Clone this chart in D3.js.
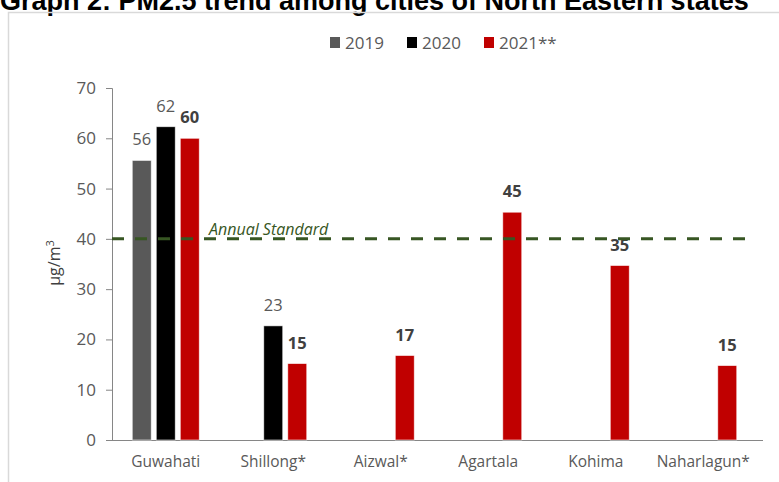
<!DOCTYPE html>
<html>
<head>
<meta charset="utf-8">
<script src="https://cdn.jsdelivr.net/npm/d3@7"></script>
<style>
  html, body { margin: 0; padding: 0; background: #fff; }
  svg { display: block; }
</style>
</head>
<body>
<script>
// PM2.5 annual averages (µg/m³) for north-eastern cities
const categories = ["Guwahati", "Shillong*", "Aizwal*", "Agartala", "Kohima", "Naharlagun*"];
const seriesNames = ["2019", "2020", "2021**"];
const values2019 = [55.6, null, null, null, null, null];
const values2020 = [62.3, 22.7, null, null, null, null];
const values2021 = [60.0, 15.2, 16.8, 45.3, 34.7, 14.8];
const seriesColors = ["#595959", "#000000", "#C00000"];
const yTicks = [0, 10, 20, 30, 40, 50, 60, 70];
const annualStandard = 40;

const W = 779, H = 482;
const svg = d3.select("body").append("svg").attr("width", W).attr("height", H);

// title (runs above the top of the frame)
svg.append("text")
  .attr("x", 0).attr("y", 10)
  .attr("font-family", "Liberation Sans, Arial, sans-serif")
  .attr("font-weight", "bold").attr("font-size", 27)
  .attr("fill", "#000")
  .text("Graph 2: PM2.5 trend among cities of North Eastern states");

// chart frame
svg.append("rect")
  .attr("x", 8.5).attr("y", 12.5).attr("width", W).attr("height", H)
  .attr("fill", "none").attr("stroke", "#d9d9d9").attr("stroke-width", 1.5);

const font = "'Open Sans', Lato, sans-serif";
const axisColor = "#868686";
const textColor = "#595959";

const x0 = d3.scaleBand().domain(categories).range([112, 757]).padding(0);
const x1 = d3.scaleBand().domain(seriesNames).range([-33.5, 33.5]).paddingInner(0.21);
const y = d3.scaleLinear().domain([0, 70]).range([440, 88]);

// y axis
const yAxis = svg.append("g")
  .attr("transform", "translate(112,0)")
  .call(d3.axisLeft(y).tickValues(yTicks).tickSize(6).tickPadding(10).tickFormat(d3.format("d")));
yAxis.select(".domain").attr("stroke", axisColor);
yAxis.selectAll(".tick line").attr("stroke", axisColor);
yAxis.selectAll(".tick text")
  .attr("font-family", font).attr("font-size", 17).attr("fill", textColor);

// x axis
const xAxis = svg.append("g")
  .attr("transform", "translate(0,440)")
  .call(d3.axisBottom(x0).tickSize(0).tickPadding(16));
xAxis.select(".domain").attr("stroke", axisColor).attr("d", "M106,0.5H763");
xAxis.selectAll(".tick text")
  .attr("font-family", font).attr("font-size", 15.5).attr("fill", textColor);

// y axis title
svg.append("text")
  .attr("transform", "translate(60,263) rotate(-90)")
  .attr("text-anchor", "middle")
  .attr("font-family", font).attr("font-size", 16).attr("fill", "#404040")
  .text("µg/m")
  .append("tspan").attr("dy", -6).attr("font-size", 11).text("3");

// bars
const allSeries = [values2019, values2020, values2021];
const barData = [];
allSeries.forEach((vals, si) => {
  vals.forEach((v, ci) => {
    if (v != null) barData.push({ cat: categories[ci], series: seriesNames[si], si, v });
  });
});

const xPos = d => x0(d.cat) + x0.bandwidth() / 2 + x1(d.series);

svg.append("g").selectAll("rect")
  .data(barData).join("rect")
  .attr("x", xPos)
  .attr("width", x1.bandwidth())
  .attr("y", d => y(d.v))
  .attr("height", d => y(0) - y(d.v))
  .attr("fill", d => seriesColors[d.si])
  .attr("stroke", "rgba(255,255,255,0.7)").attr("stroke-width", 0.8);

// data labels
svg.append("g").selectAll("text")
  .data(barData).join("text")
  .attr("x", d => xPos(d) + x1.bandwidth() / 2)
  .attr("y", d => y(d.v) - 15)
  .attr("text-anchor", "middle")
  .attr("font-family", font).attr("font-size", 16.5)
  .attr("font-weight", d => d.si === 2 ? "bold" : "normal")
  .attr("fill", d => d.si === 2 ? "#404040" : textColor)
  .text(d => Math.round(d.v));

// annual standard line
svg.append("line")
  .attr("x1", 112).attr("x2", 752)
  .attr("y1", y(annualStandard)).attr("y2", y(annualStandard))
  .attr("stroke", "#375623").attr("stroke-width", 3)
  .attr("stroke-dasharray", "12,11");
svg.append("text")
  .attr("x", 209).attr("y", y(annualStandard) - 4)
  .attr("font-family", font).attr("font-style", "italic").attr("font-size", 16)
  .attr("fill", "#375623")
  .text("Annual Standard");

// legend
const legendX = [330, 407, 484];
const legend = svg.append("g");
seriesNames.forEach((name, i) => {
  legend.append("rect")
    .attr("x", legendX[i]).attr("y", 37).attr("width", 10).attr("height", 11)
    .attr("fill", seriesColors[i]);
  legend.append("text")
    .attr("x", legendX[i] + 15).attr("y", 49)
    .attr("font-family", font).attr("font-size", 17).attr("fill", textColor)
    .text(name);
});
</script>
</body>
</html>
